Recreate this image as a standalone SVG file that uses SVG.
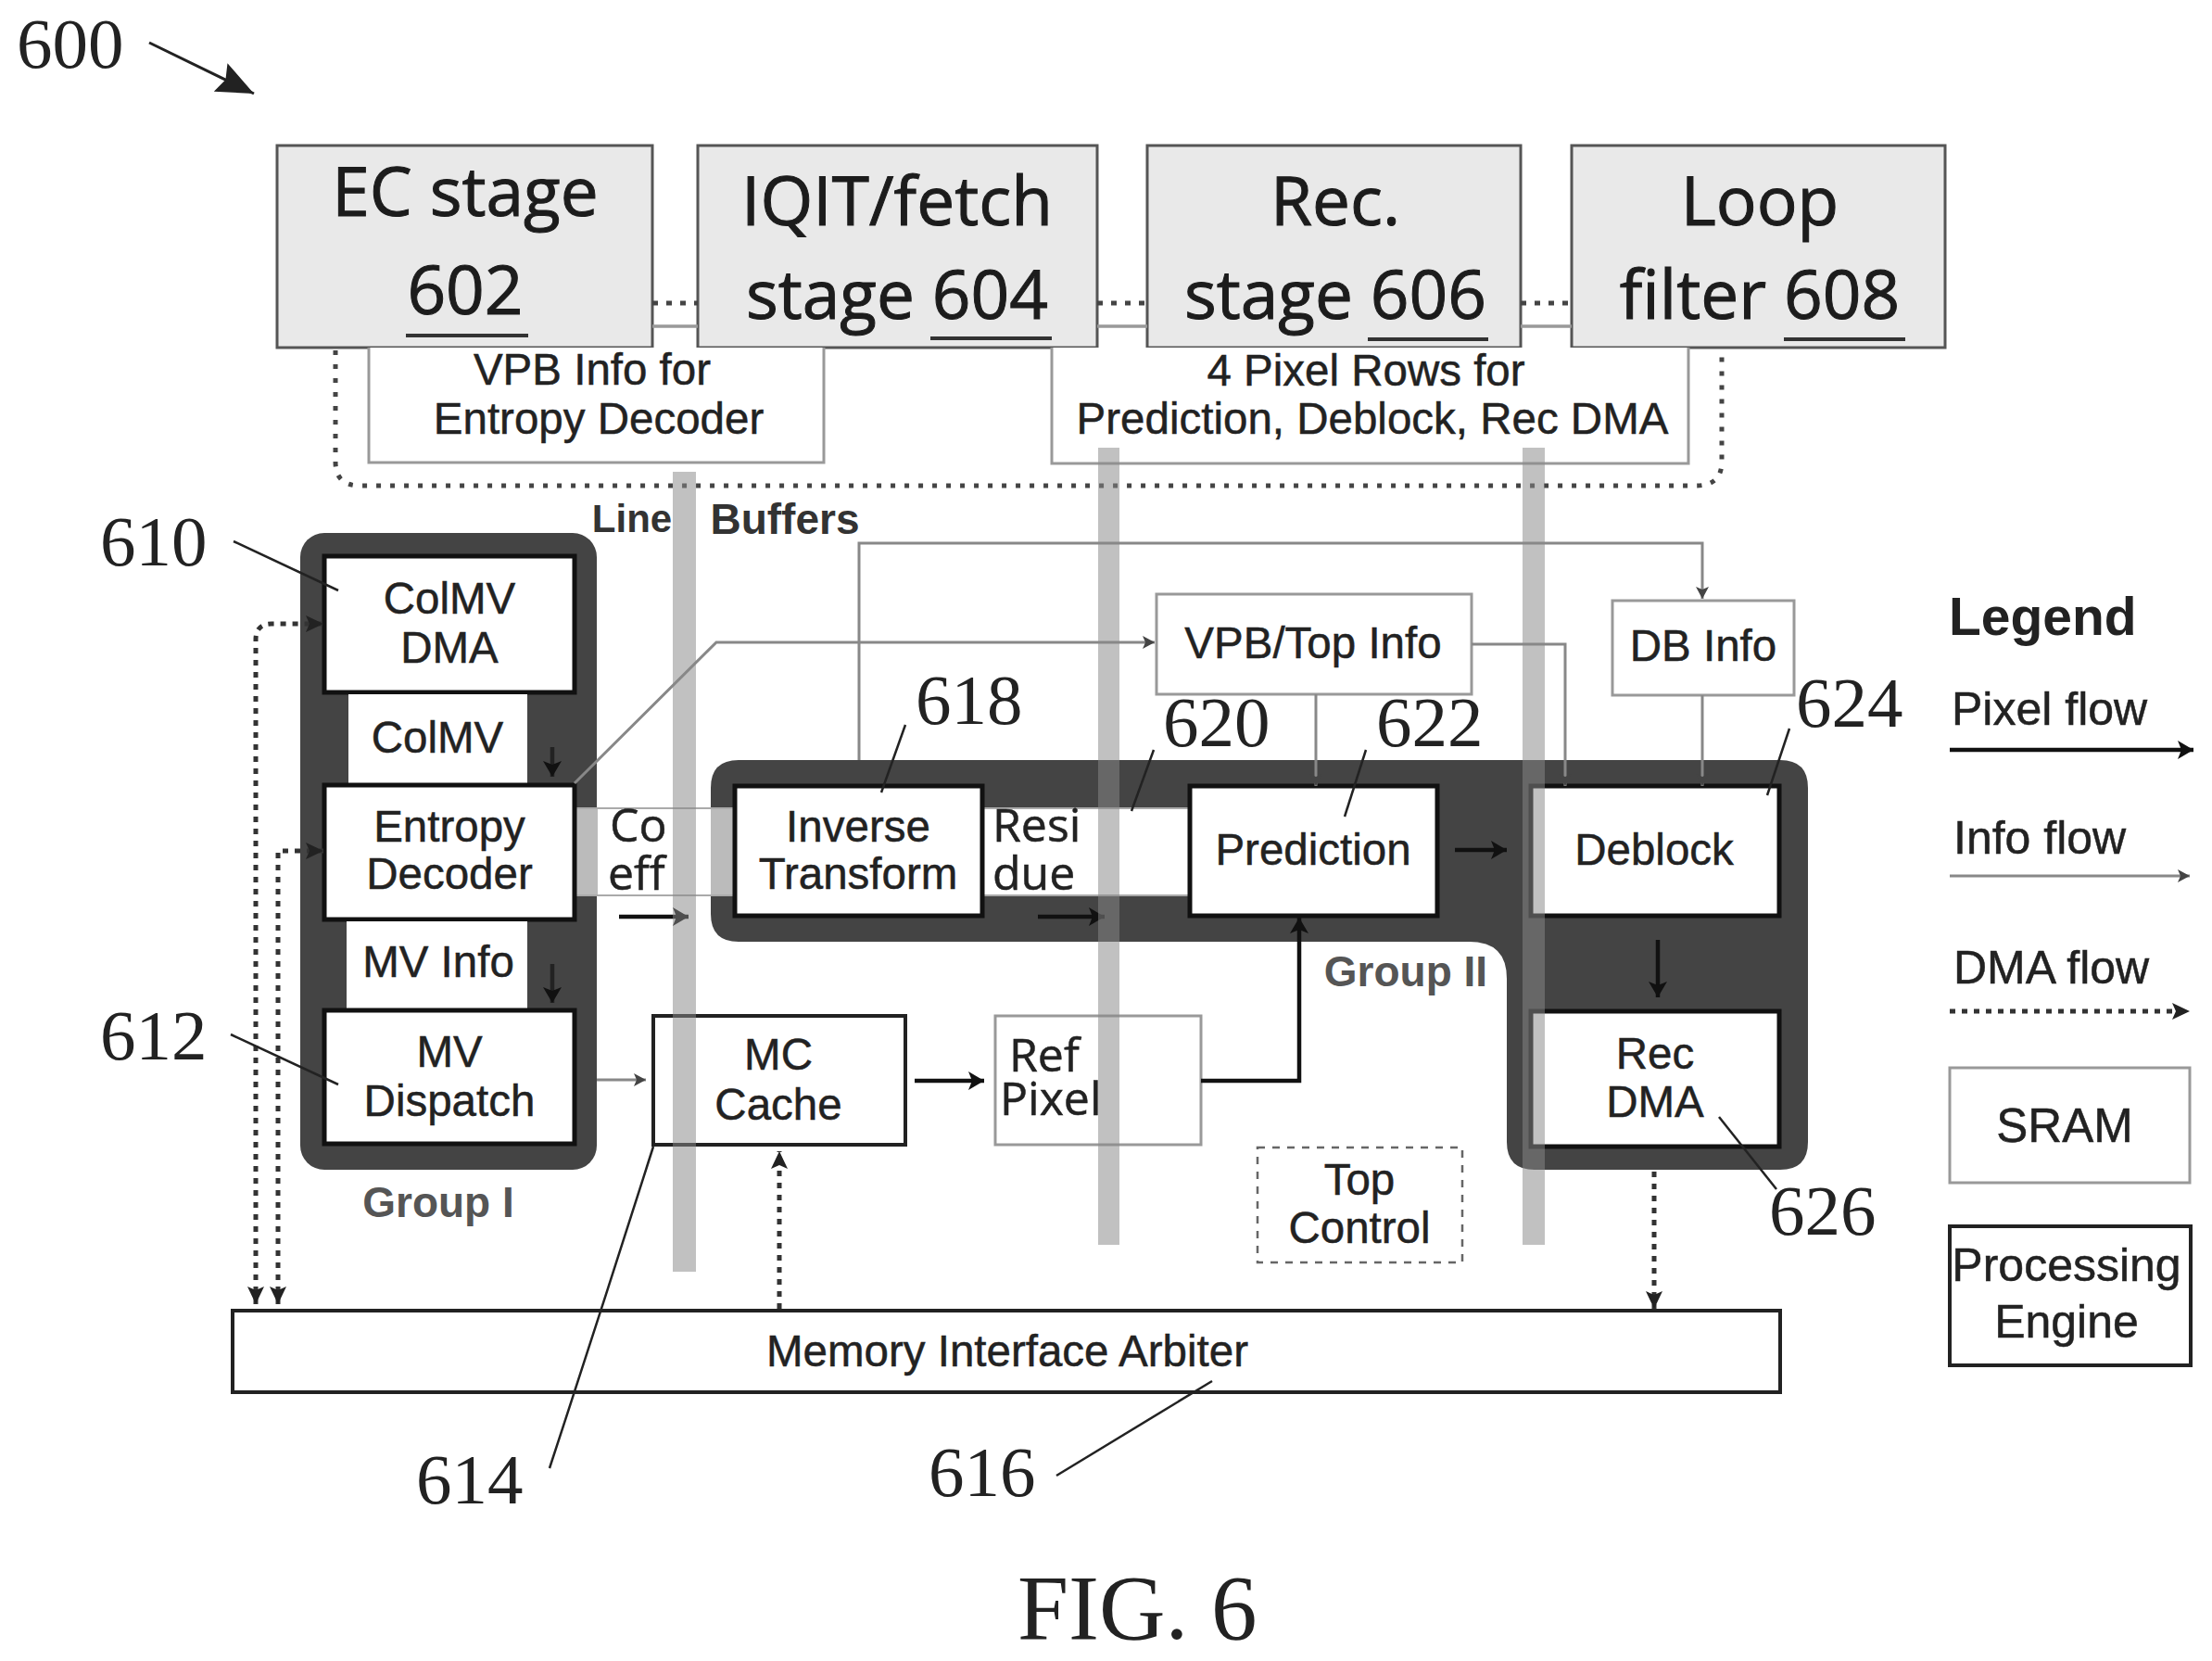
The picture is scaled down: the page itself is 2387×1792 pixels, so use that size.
<svg xmlns="http://www.w3.org/2000/svg" width="2387" height="1792" viewBox="0 0 2387 1792">
<style>
text{font-family:"Liberation Sans",Arial,sans-serif;font-size:47.5px;fill:#222;stroke:#222;stroke-width:.5;text-anchor:middle}
.st{font-family:"Open Sans",sans-serif;font-size:73px;fill:#1c1c1c;stroke:#1c1c1c;stroke-width:1}
.os{font-family:"Open Sans",sans-serif;font-size:50px;text-anchor:start}
.num{font-family:"Liberation Serif",serif;font-size:77px;text-anchor:start;stroke-width:0}
.grp{font-weight:bold;font-size:46px;fill:#555;stroke-width:0}
.lb{font-weight:bold;font-size:42px;fill:#333;stroke-width:0}
.lg{text-anchor:start;font-size:50px}
.stage{fill:#e9e9e9;stroke:#555;stroke-width:3}
.ul{stroke:#333;stroke-width:4;fill:none}
.pe{fill:#fff;stroke:#111;stroke-width:5}
.pe2{fill:#fff;stroke:#222;stroke-width:4}
.sram{fill:#fff;stroke:#999;stroke-width:3}
.strip{fill:#fff;stroke:#aaa;stroke-width:2}
.dark{fill:#444}
.band{fill:#bbb}
.bar{fill:#888;opacity:.52}
.info{fill:none;stroke:#888;stroke-width:3}
.pix{fill:none;stroke:#111;stroke-width:4.5}
.dma{fill:none;stroke:#333;stroke-width:5;stroke-dasharray:6 7}
.lead{fill:none;stroke:#222;stroke-width:2.5}
.il{fill:none;stroke:#999;stroke-width:3.5}
.dl{fill:none;stroke:#444;stroke-width:5;stroke-dasharray:5 10}
</style>
<defs>
<marker id="hi" markerUnits="userSpaceOnUse" markerWidth="14" markerHeight="14" refX="13" refY="7" orient="auto"><path d="M0 0L13 7L0 14L3 7Z" fill="#444"/></marker>
<marker id="hp" markerUnits="userSpaceOnUse" markerWidth="18" markerHeight="20" refX="17" refY="10" orient="auto"><path d="M0 0L17 10L0 20L4 10Z" fill="#111"/></marker>
<marker id="hd" markerUnits="userSpaceOnUse" markerWidth="20" markerHeight="20" refX="19" refY="10" orient="auto-start-reverse"><path d="M0 1L19 10L0 19L4 10Z" fill="#222"/></marker>
<marker id="hb" markerUnits="userSpaceOnUse" markerWidth="42" markerHeight="34" refX="40" refY="17" orient="auto"><path d="M0 0L40 17L0 34L6 17Z" fill="#222"/></marker>
</defs>

<g id="group-i-bg"><rect class="dark" x="324" y="575" width="320" height="687" rx="26"/></g>
<g id="group-ii-bg"><path class="dark" d="M797 820H1921Q1951 820 1951 850V1232Q1951 1262 1921 1262H1656Q1626 1262 1626 1232V1056Q1626 1016 1586 1016H797Q767 1016 767 986V850Q767 820 797 820Z"/></g>

<g id="coeff"><rect class="strip" x="620" y="872" width="172" height="94"/><rect class="band" x="620" y="873" width="25" height="92"/><rect class="band" x="767" y="873" width="25" height="92"/><text class="os" x="658" y="908">Co</text><text class="os" x="656" y="960">eff</text></g>
<g id="residue"><rect class="strip" x="1060" y="872" width="223" height="94"/><text class="os" x="1071" y="908">Resi</text><text class="os" x="1071" y="960">due</text></g>

<g id="n602"><rect class="stage" x="299" y="157" width="405" height="218"/><text class="st" x="502" y="233">EC stage</text><text class="st" x="502" y="339">602</text><path class="ul" d="M438 362H570"/></g>
<g id="n604"><rect class="stage" x="753" y="157" width="431" height="218"/><text class="st" x="968" y="243">IQIT/fetch</text><text class="st" x="968" y="344">stage 604</text><path class="ul" d="M1004 365H1135"/></g>
<g id="n606"><rect class="stage" x="1238" y="157" width="403" height="218"/><text class="st" x="1441" y="243">Rec.</text><text class="st" x="1441" y="344">stage 606</text><path class="ul" d="M1476 366H1606"/></g>
<g id="n608"><rect class="stage" x="1696" y="157" width="403" height="218"/><text class="st" x="1899" y="243">Loop</text><text class="st" x="1899" y="344">filter 608</text><path class="ul" d="M1925 366H2056"/></g>

<g id="vpb-info"><path class="sram" d="M398 375V499H889V375"/><text x="639" y="415">VPB Info for</text><text x="646" y="468">Entropy Decoder</text></g>
<g id="pixel-rows"><path class="sram" d="M1135 375V500H1822V375"/><text x="1474" y="416">4 Pixel Rows for</text><text x="1481" y="468">Prediction, Deblock, Rec DMA</text></g>

<g id="line-buffers-label"><text class="lb" x="682" y="574">Line</text><text class="lb" x="847" y="576" style="font-size:46px">Buffers</text></g>

<g id="colmv-dma"><rect class="pe" x="350" y="600" width="270" height="147"/><text x="485" y="662">ColMV</text><text x="485" y="715">DMA</text></g>
<g id="colmv"><rect x="376" y="749" width="193" height="96" fill="#fff"/><text x="472" y="812">ColMV</text></g>
<g id="entropy"><rect class="pe" x="350" y="847" width="270" height="145"/><text x="485" y="908">Entropy</text><text x="485" y="959">Decoder</text></g>
<g id="mv-info"><rect x="374" y="994" width="195" height="94" fill="#fff"/><text x="473" y="1054">MV Info</text></g>
<g id="mv-dispatch"><rect class="pe" x="350" y="1090" width="270" height="144"/><text x="485" y="1151">MV</text><text x="485" y="1204">Dispatch</text></g>
<g id="group-i-label"><text class="grp" x="473" y="1313">Group I</text></g>

<g id="inverse"><rect class="pe" x="793" y="848" width="267" height="140"/><text x="926" y="908">Inverse</text><text x="926" y="959">Transform</text></g>
<g id="prediction"><rect class="pe" x="1284" y="848" width="267" height="140"/><text x="1417" y="933">Prediction</text></g>
<g id="deblock"><rect class="pe" x="1652" y="848" width="268" height="140"/><text x="1785" y="933">Deblock</text></g>
<g id="rec-dma"><rect class="pe" x="1652" y="1091" width="268" height="146"/><text x="1786" y="1153">Rec</text><text x="1786" y="1205">DMA</text></g>
<g id="group-ii-label"><text class="grp" x="1517" y="1064">Group II</text></g>

<g id="mc-cache"><rect class="pe2" x="705" y="1096" width="272" height="139"/><text x="840" y="1154">MC</text><text x="840" y="1208">Cache</text></g>
<g id="ref-pixel"><rect class="sram" x="1074" y="1096" width="222" height="139"/><text class="os" x="1089" y="1156">Ref</text><text class="os" x="1079" y="1203">Pixel</text></g>
<g id="vpb-top"><rect class="sram" x="1248" y="641" width="340" height="108"/><text x="1417" y="710">VPB/Top Info</text></g>
<g id="db-info"><rect class="sram" x="1740" y="648" width="196" height="102"/><text x="1838" y="713">DB Info</text></g>
<g id="top-control"><rect x="1357" y="1238" width="221" height="124" fill="#fff" stroke="#666" stroke-width="2.5" stroke-dasharray="8 8"/><text x="1467" y="1289">Top</text><text x="1467" y="1341">Control</text></g>
<g id="memory"><rect class="pe2" x="251" y="1414" width="1670" height="88"/><text x="1087" y="1474">Memory Interface Arbiter</text></g>

<g id="connectors">
<path class="il" d="M704 327H753M1184 327H1238M1641 327H1696" style="stroke:#444;stroke-width:5;stroke-dasharray:6 9"/>
<path class="il" d="M704 352H753M1184 352H1238M1641 352H1696"/>
<path class="dl" d="M362 378V498Q362 524 388 524H1830Q1858 524 1858 498V378"/>
<path class="info" d="M620 845L773 693H1246" marker-end="url(#hi)"/>
<path class="info" d="M927 820V586H1837V646" marker-end="url(#hi)"/>
<path class="info" d="M1420 749V848" marker-end="url(#hi)"/>
<path class="info" d="M1588 695H1689V848" marker-end="url(#hi)"/>
<path class="info" d="M1837 750V848" marker-end="url(#hi)"/>
<path class="info" d="M644 1165H697" marker-end="url(#hi)"/>
<path class="pix" d="M596 806V838" marker-end="url(#hp)" style="stroke:#222"/>
<path class="pix" d="M596 1040V1082" marker-end="url(#hp)" style="stroke:#222"/>
<path class="pix" d="M668 989H743" marker-end="url(#hp)"/>
<path class="pix" d="M1120 989H1192" marker-end="url(#hp)"/>
<path class="pix" d="M1570 917H1626" marker-end="url(#hp)"/>
<path class="pix" d="M1789 1014V1076" marker-end="url(#hp)"/>
<path class="pix" d="M987 1166H1062" marker-end="url(#hp)"/>
<path class="pix" d="M1296 1166H1402V990" marker-end="url(#hp)"/>
<path class="dma" d="M276 1407V690Q276 673 293 673H349" marker-start="url(#hd)" marker-end="url(#hd)"/>
<path class="dma" d="M300 1407V918H349" marker-start="url(#hd)" marker-end="url(#hd)"/>
<path class="dma" d="M841 1412V1242" marker-end="url(#hd)"/>
<path class="dma" d="M1785 1264V1412" marker-end="url(#hd)"/>
</g>

<g id="line-buffer-bars"><rect class="bar" x="726" y="509" width="25" height="863"/><rect class="bar" x="1185" y="483" width="23" height="860"/><rect class="bar" x="1643" y="483" width="24" height="860"/></g>

<g id="legend">
<text class="lg" x="2103" y="685" style="font-weight:bold;font-size:57px;stroke-width:0">Legend</text>
<text class="lg" x="2106" y="782">Pixel flow</text>
<path class="pix" d="M2104 809H2367" marker-end="url(#hp)"/>
<text class="lg" x="2108" y="921">Info flow</text>
<path class="info" d="M2104 945H2363" marker-end="url(#hi)"/>
<text class="lg" x="2108" y="1061">DMA flow</text>
<path class="dma" d="M2104 1091H2363" marker-end="url(#hd)"/>
<g id="legend-sram"><rect class="sram" x="2104" y="1152" width="259" height="124"/><text x="2228" y="1232" style="font-size:51px">SRAM</text></g>
<g id="legend-pe"><rect class="pe2" x="2104" y="1323" width="260" height="150"/><text x="2230" y="1382" style="font-size:50px">Processing</text><text x="2230" y="1443" style="font-size:50px">Engine</text></g>
</g>

<g id="refs">
<text class="num" x="18" y="73">600</text>
<path d="M161 46L274 101" class="lead" style="stroke-width:3" marker-end="url(#hb)"/>
<text class="num" x="108" y="610">610</text><path class="lead" d="M252 584L365 637"/>
<text class="num" x="108" y="1143">612</text><path class="lead" d="M249 1116L365 1170"/>
<text class="num" x="988" y="781">618</text><path class="lead" d="M977 782L951 855"/>
<text class="num" x="1255" y="805">620</text><path class="lead" d="M1245 809L1221 875"/>
<text class="num" x="1485" y="805">622</text><path class="lead" d="M1474 809L1451 881"/>
<text class="num" x="1938" y="784">624</text><path class="lead" d="M1931 786L1907 858"/>
<text class="num" x="1909" y="1332">626</text><path class="lead" d="M1855 1205L1917 1283"/>
<text class="num" x="449" y="1622">614</text><path class="lead" d="M705 1237Q650 1410 593 1584"/>
<text class="num" x="1002" y="1614">616</text><path class="lead" d="M1140 1592L1308 1490"/>
<text x="1098" y="1768" style="font-family:'Liberation Serif',serif;font-size:99px;text-anchor:start;stroke-width:0">FIG. 6</text>
</g>
</svg>
